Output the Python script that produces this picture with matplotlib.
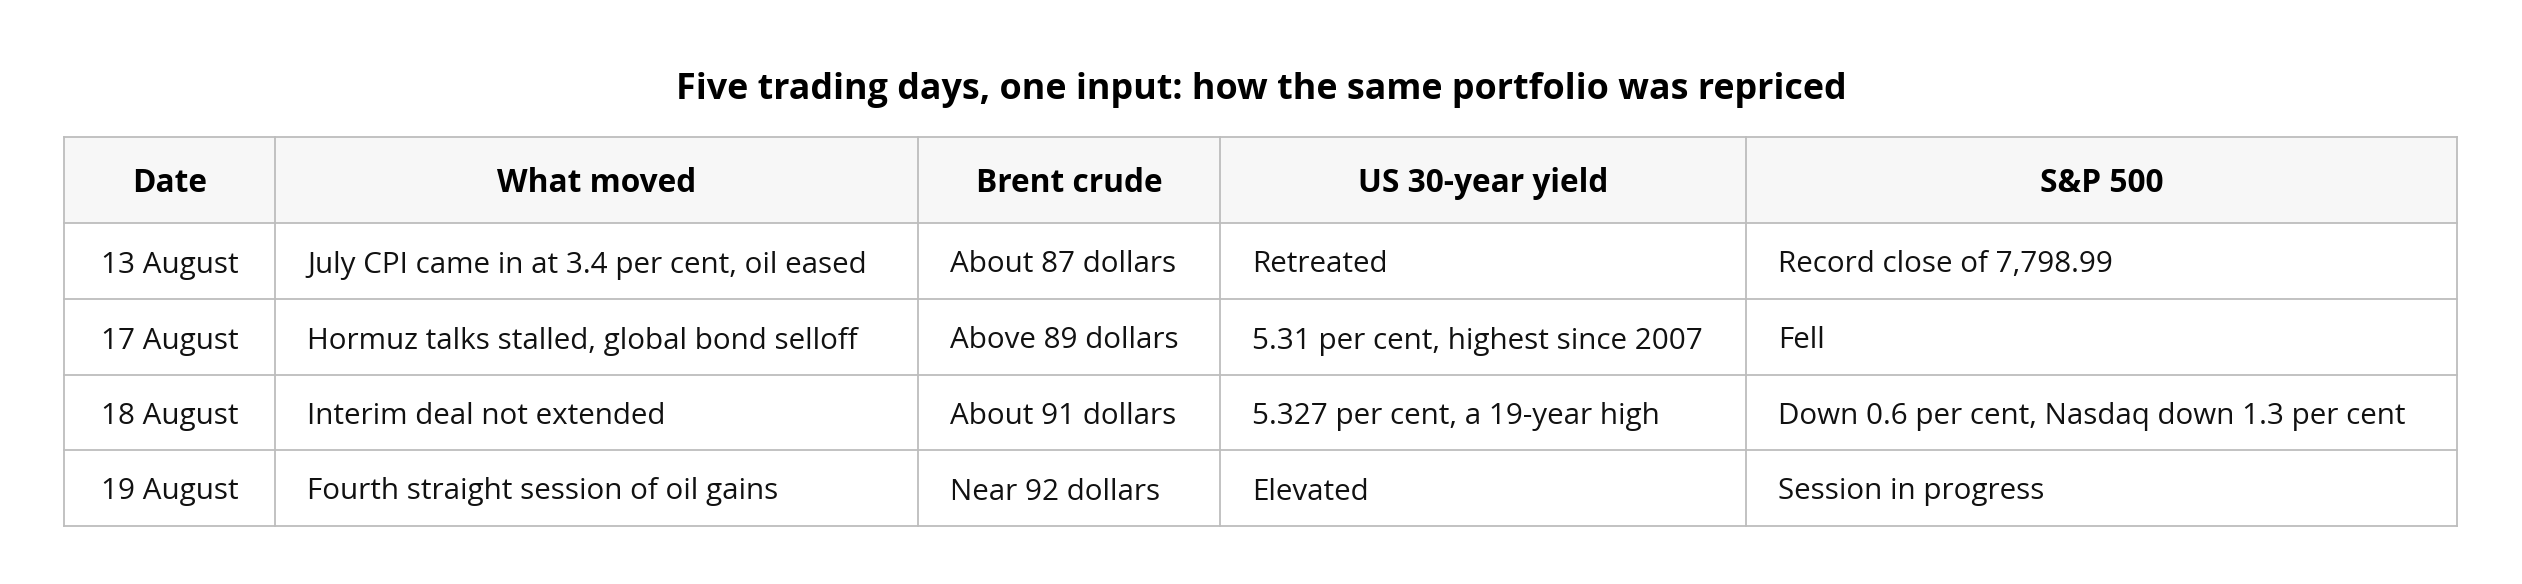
import matplotlib
matplotlib.use("Agg")
import matplotlib.pyplot as plt
from matplotlib.patches import Rectangle

TITLE = "Five trading days, one input: how the same portfolio was repriced"

COLUMNS = ["Date", "What moved", "Brent crude", "US 30-year yield", "S&P 500"]
DATES = ["13 August", "17 August", "18 August", "19 August"]
WHAT_MOVED = [
    "July CPI came in at 3.4 per cent, oil eased",
    "Hormuz talks stalled, global bond selloff",
    "Interim deal not extended",
    "Fourth straight session of oil gains",
]
BRENT = ["About 87 dollars", "Above 89 dollars", "About 91 dollars", "Near 92 dollars"]
YIELD_30Y = [
    "Retreated",
    "5.31 per cent, highest since 2007",
    "5.327 per cent, a 19-year high",
    "Elevated",
]
SP500 = [
    "Record close of 7,798.99",
    "Fell",
    "Down 0.6 per cent, Nasdaq down 1.3 per cent",
    "Session in progress",
]

# layout, in pixels of the 2522x584 output
W, H = 2522, 584
COL_EDGES = [64, 275, 918, 1220, 1746, 2457]
ROW_EDGES = [137, 223, 299, 375, 450, 526]
PAD = 32
TEXT_DY = 4  # the reference glyphs sit a little below the cell middle
BORDER = "#bdbdbd"
HEADER_BG = "#f7f7f7"
FONT = ["Open Sans", "DejaVu Sans"]
BODY_SIZE = 21.3
HEADER_SIZE = 22.8
TITLE_SIZE = 25.8


def main():
    fig = plt.figure(figsize=(W / 100, H / 100), dpi=100)
    ax = fig.add_axes([0, 0, 1, 1])
    ax.set_xlim(0, W)
    ax.set_ylim(H, 0)
    ax.axis("off")

    ax.text(W / 2, 86 + TEXT_DY, TITLE, ha="center", va="center", fontsize=TITLE_SIZE,
            fontweight="bold", family=FONT, color="#000000")

    ax.add_patch(Rectangle((COL_EDGES[0], ROW_EDGES[0]), COL_EDGES[-1] - COL_EDGES[0],
                           ROW_EDGES[1] - ROW_EDGES[0], facecolor=HEADER_BG,
                           edgecolor="none", zorder=0))

    for x in COL_EDGES:
        ax.plot([x, x], [ROW_EDGES[0], ROW_EDGES[-1]], color=BORDER, lw=1.3,
                solid_capstyle="projecting", zorder=2)
    for y in ROW_EDGES:
        ax.plot([COL_EDGES[0], COL_EDGES[-1]], [y, y], color=BORDER, lw=1.3,
                solid_capstyle="projecting", zorder=2)

    header_y = (ROW_EDGES[0] + ROW_EDGES[1]) / 2 + TEXT_DY
    for i, name in enumerate(COLUMNS):
        cx = (COL_EDGES[i] + COL_EDGES[i + 1]) / 2
        ax.text(cx, header_y, name, ha="center", va="center", fontsize=HEADER_SIZE,
                fontweight="bold", family=FONT, color="#000000")

    rows = list(zip(DATES, WHAT_MOVED, BRENT, YIELD_30Y, SP500))
    for r, row in enumerate(rows):
        cy = (ROW_EDGES[r + 1] + ROW_EDGES[r + 2]) / 2 + TEXT_DY
        for c, cell in enumerate(row):
            if c == 0:
                x = (COL_EDGES[0] + COL_EDGES[1]) / 2
                ha = "center"
            else:
                x = COL_EDGES[c] + PAD
                ha = "left"
            ax.text(x, cy, cell, ha=ha, va="center", fontsize=BODY_SIZE,
                    family=FONT, color="#111111")

    fig.savefig("out.png", dpi=100, facecolor="white")


if __name__ == "__main__":
    main()
